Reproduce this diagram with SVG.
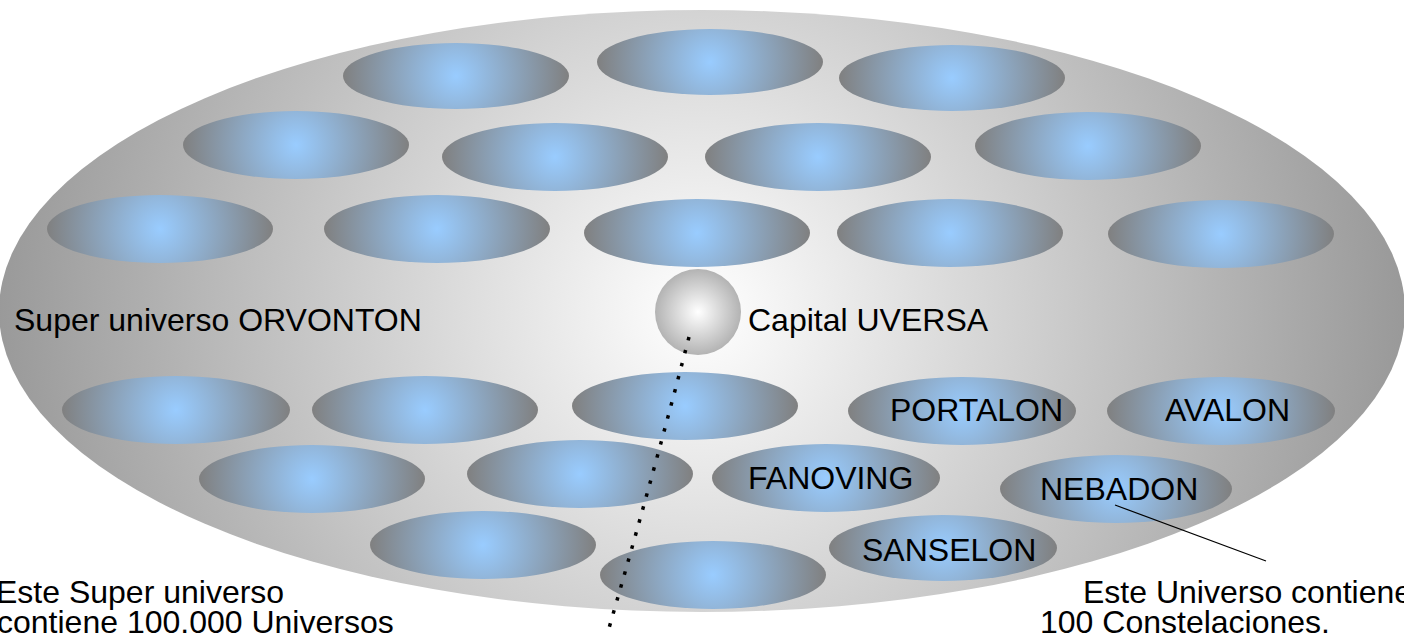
<svg xmlns="http://www.w3.org/2000/svg" width="1404" height="635" viewBox="0 0 1404 635">
<style>
.t{font-family:"Liberation Sans",Arial,sans-serif;font-size:32px;fill:#000}
.u{fill:url(#gU)}
</style>
<defs>
<radialGradient id="gBig" gradientUnits="userSpaceOnUse" cx="700" cy="312" r="705">
<stop offset="0" stop-color="#ffffff"/>
<stop offset="1" stop-color="#999999"/>
</radialGradient>
<radialGradient id="gU" cx="0.5" cy="0.5" r="0.5" gradientTransform="translate(0.5 0.5) scale(1 3.35) translate(-0.5 -0.5)">
<stop offset="0" stop-color="#99ccff"/>
<stop offset="1" stop-color="#808080"/>
</radialGradient>
<radialGradient id="gCap" cx="0.5" cy="0.5" r="0.5">
<stop offset="0" stop-color="#ffffff"/>
<stop offset="1" stop-color="#b3b3b3"/>
</radialGradient>
</defs>
<rect width="1404" height="635" fill="#ffffff"/>
<g id="orvonton">
<ellipse cx="702" cy="311" rx="703" ry="301" fill="url(#gBig)"/>
<text class="t" x="14" y="331">Super universo ORVONTON</text>
</g>
<g id="universos">
<ellipse class="u" cx="456" cy="76" rx="113" ry="33"/>
<ellipse class="u" cx="710" cy="62" rx="113" ry="33"/>
<ellipse class="u" cx="952" cy="78" rx="113" ry="33"/>
<ellipse class="u" cx="296" cy="145" rx="113" ry="34"/>
<ellipse class="u" cx="555" cy="157" rx="113" ry="34"/>
<ellipse class="u" cx="818" cy="157" rx="113" ry="34"/>
<ellipse class="u" cx="1088" cy="146" rx="113" ry="34"/>
<ellipse class="u" cx="160" cy="229" rx="113" ry="34"/>
<ellipse class="u" cx="437" cy="229" rx="113" ry="34"/>
<ellipse class="u" cx="697" cy="233" rx="113" ry="34"/>
<ellipse class="u" cx="950" cy="233" rx="113" ry="34"/>
<ellipse class="u" cx="1221" cy="234" rx="113" ry="34"/>
<ellipse class="u" cx="176" cy="410" rx="114" ry="34"/>
<ellipse class="u" cx="425" cy="410" rx="113" ry="34"/>
<ellipse class="u" cx="685" cy="406" rx="113" ry="34"/>
<ellipse class="u" cx="312" cy="479" rx="113" ry="34"/>
<ellipse class="u" cx="580" cy="474" rx="113" ry="34"/>
<ellipse class="u" cx="483" cy="545" rx="113" ry="34"/>
<ellipse class="u" cx="713" cy="575" rx="113" ry="34"/>
</g>
<g id="portalon"><ellipse class="u" cx="962" cy="411" rx="114" ry="34"/><text class="t" x="890" y="421">PORTALON</text></g>
<g id="avalon"><ellipse class="u" cx="1221" cy="411" rx="114" ry="34"/><text class="t" x="1165" y="421">AVALON</text></g>
<g id="fanoving"><ellipse class="u" cx="826" cy="478" rx="114" ry="34"/><text class="t" x="748" y="489">FANOVING</text></g>
<g id="nebadon"><ellipse class="u" cx="1116" cy="489" rx="116" ry="34"/><text class="t" x="1040" y="500">NEBADON</text></g>
<g id="sanselon"><ellipse class="u" cx="943" cy="548" rx="114" ry="33"/><text class="t" x="862" y="561">SANSELON</text></g>
<g id="uversa">
<circle cx="698" cy="312" r="43" fill="url(#gCap)"/>
<text class="t" x="748" y="331">Capital UVERSA</text>
</g>
<g id="connectors" fill="none" stroke="#000">
<path d="M689 337 Q 652 480 607 635" stroke-width="3.5" stroke-dasharray="3.5 10"/>
<line x1="1115" y1="505" x2="1266" y2="561" stroke-width="1.2"/>
</g>
<g id="notas">
<text class="t" x="-4" y="603">Este Super universo</text>
<text class="t" x="-3" y="633">contiene 100.000 Universos</text>
<text class="t" x="1083" y="603">Este Universo contiene</text>
<text class="t" x="1040" y="633">100 Constelaciones.</text>
</g>
</svg>
